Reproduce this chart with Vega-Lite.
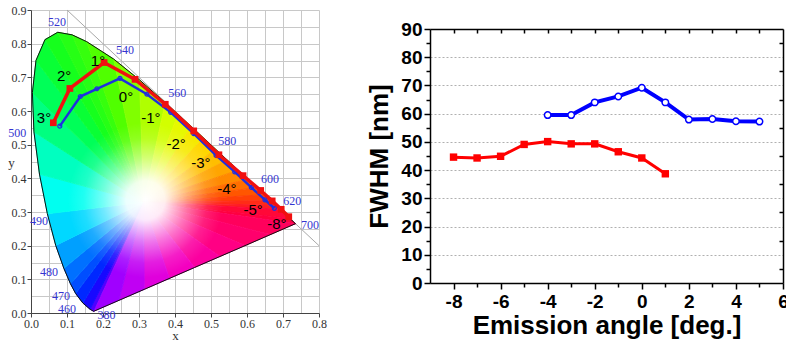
{
 "$schema": "https://vega.github.io/schema/vega-lite/v6.json",
 "padding": {"left": 7, "top": 4, "right": 0, "bottom": 0},
 "background": "white",
 "config": {"view": {"stroke": null}, "font": "Liberation Sans"},
 "columns": 2,
 "align": "none",
 "spacing": 39,
 "datasets": {
  "tri": [
   {"t":0,"o":0,"x":0.3127,"y":0.329,"h":410},{"t":0,"o":1,"x":0.1741,"y":0.005,"h":410},{"t":0,"o":2,"x":0.1644,"y":0.0109,"h":410},
   {"t":1,"o":0,"x":0.3127,"y":0.329,"h":450},{"t":1,"o":1,"x":0.1644,"y":0.0109,"h":450},{"t":1,"o":2,"x":0.144,"y":0.0297,"h":450},
   {"t":2,"o":0,"x":0.3127,"y":0.329,"h":465},{"t":2,"o":1,"x":0.144,"y":0.0297,"h":465},{"t":2,"o":2,"x":0.1241,"y":0.0578,"h":465},
   {"t":3,"o":0,"x":0.3127,"y":0.329,"h":472},{"t":3,"o":1,"x":0.1241,"y":0.0578,"h":472},{"t":3,"o":2,"x":0.1096,"y":0.0868,"h":472},
   {"t":4,"o":0,"x":0.3127,"y":0.329,"h":477},{"t":4,"o":1,"x":0.1096,"y":0.0868,"h":477},{"t":4,"o":2,"x":0.0913,"y":0.1327,"h":477},
   {"t":5,"o":0,"x":0.3127,"y":0.329,"h":482},{"t":5,"o":1,"x":0.0913,"y":0.1327,"h":482},{"t":5,"o":2,"x":0.0687,"y":0.2007,"h":482},
   {"t":6,"o":0,"x":0.3127,"y":0.329,"h":487},{"t":6,"o":1,"x":0.0687,"y":0.2007,"h":487},{"t":6,"o":2,"x":0.0454,"y":0.295,"h":487},
   {"t":7,"o":0,"x":0.3127,"y":0.329,"h":492},{"t":7,"o":1,"x":0.0454,"y":0.295,"h":492},{"t":7,"o":2,"x":0.0235,"y":0.4127,"h":492},
   {"t":8,"o":0,"x":0.3127,"y":0.329,"h":497},{"t":8,"o":1,"x":0.0235,"y":0.4127,"h":497},{"t":8,"o":2,"x":0.0082,"y":0.5384,"h":497},
   {"t":9,"o":0,"x":0.3127,"y":0.329,"h":502},{"t":9,"o":1,"x":0.0082,"y":0.5384,"h":502},{"t":9,"o":2,"x":0.0039,"y":0.6548,"h":502},
   {"t":10,"o":0,"x":0.3127,"y":0.329,"h":507},{"t":10,"o":1,"x":0.0039,"y":0.6548,"h":507},{"t":10,"o":2,"x":0.0139,"y":0.7502,"h":507},
   {"t":11,"o":0,"x":0.3127,"y":0.329,"h":512},{"t":11,"o":1,"x":0.0139,"y":0.7502,"h":512},{"t":11,"o":2,"x":0.0389,"y":0.812,"h":512},
   {"t":12,"o":0,"x":0.3127,"y":0.329,"h":517},{"t":12,"o":1,"x":0.0389,"y":0.812,"h":517},{"t":12,"o":2,"x":0.0743,"y":0.8338,"h":517},
   {"t":13,"o":0,"x":0.3127,"y":0.329,"h":522},{"t":13,"o":1,"x":0.0743,"y":0.8338,"h":522},{"t":13,"o":2,"x":0.1142,"y":0.8262,"h":522},
   {"t":14,"o":0,"x":0.3127,"y":0.329,"h":527},{"t":14,"o":1,"x":0.1142,"y":0.8262,"h":527},{"t":14,"o":2,"x":0.1547,"y":0.8059,"h":527},
   {"t":15,"o":0,"x":0.3127,"y":0.329,"h":535},{"t":15,"o":1,"x":0.1547,"y":0.8059,"h":535},{"t":15,"o":2,"x":0.2296,"y":0.7543,"h":535},
   {"t":16,"o":0,"x":0.3127,"y":0.329,"h":545},{"t":16,"o":1,"x":0.2296,"y":0.7543,"h":545},{"t":16,"o":2,"x":0.3016,"y":0.6923,"h":545},
   {"t":17,"o":0,"x":0.3127,"y":0.329,"h":555},{"t":17,"o":1,"x":0.3016,"y":0.6923,"h":555},{"t":17,"o":2,"x":0.3731,"y":0.6245,"h":555},
   {"t":18,"o":0,"x":0.3127,"y":0.329,"h":562},{"t":18,"o":1,"x":0.3731,"y":0.6245,"h":562},{"t":18,"o":2,"x":0.4087,"y":0.5896,"h":562},
   {"t":19,"o":0,"x":0.3127,"y":0.329,"h":567},{"t":19,"o":1,"x":0.4087,"y":0.5896,"h":567},{"t":19,"o":2,"x":0.4441,"y":0.5547,"h":567},
   {"t":20,"o":0,"x":0.3127,"y":0.329,"h":572},{"t":20,"o":1,"x":0.4441,"y":0.5547,"h":572},{"t":20,"o":2,"x":0.4788,"y":0.5202,"h":572},
   {"t":21,"o":0,"x":0.3127,"y":0.329,"h":577},{"t":21,"o":1,"x":0.4788,"y":0.5202,"h":577},{"t":21,"o":2,"x":0.5125,"y":0.4866,"h":577},
   {"t":22,"o":0,"x":0.3127,"y":0.329,"h":582},{"t":22,"o":1,"x":0.5125,"y":0.4866,"h":582},{"t":22,"o":2,"x":0.5448,"y":0.4544,"h":582},
   {"t":23,"o":0,"x":0.3127,"y":0.329,"h":587},{"t":23,"o":1,"x":0.5448,"y":0.4544,"h":587},{"t":23,"o":2,"x":0.5752,"y":0.4242,"h":587},
   {"t":24,"o":0,"x":0.3127,"y":0.329,"h":592},{"t":24,"o":1,"x":0.5752,"y":0.4242,"h":592},{"t":24,"o":2,"x":0.6029,"y":0.3965,"h":592},
   {"t":25,"o":0,"x":0.3127,"y":0.329,"h":597},{"t":25,"o":1,"x":0.6029,"y":0.3965,"h":597},{"t":25,"o":2,"x":0.627,"y":0.3725,"h":597},
   {"t":26,"o":0,"x":0.3127,"y":0.329,"h":602},{"t":26,"o":1,"x":0.627,"y":0.3725,"h":602},{"t":26,"o":2,"x":0.6482,"y":0.3514,"h":602},
   {"t":27,"o":0,"x":0.3127,"y":0.329,"h":607},{"t":27,"o":1,"x":0.6482,"y":0.3514,"h":607},{"t":27,"o":2,"x":0.6658,"y":0.334,"h":607},
   {"t":28,"o":0,"x":0.3127,"y":0.329,"h":612},{"t":28,"o":1,"x":0.6658,"y":0.334,"h":612},{"t":28,"o":2,"x":0.6801,"y":0.3197,"h":612},
   {"t":29,"o":0,"x":0.3127,"y":0.329,"h":617},{"t":29,"o":1,"x":0.6801,"y":0.3197,"h":617},{"t":29,"o":2,"x":0.6915,"y":0.3083,"h":617},
   {"t":30,"o":0,"x":0.3127,"y":0.329,"h":630},{"t":30,"o":1,"x":0.6915,"y":0.3083,"h":630},{"t":30,"o":2,"x":0.719,"y":0.2809,"h":630},
   {"t":31,"o":0,"x":0.3127,"y":0.329,"h":670},{"t":31,"o":1,"x":0.719,"y":0.2809,"h":670},{"t":31,"o":2,"x":0.7347,"y":0.2653,"h":670},
   {"t":32,"o":0,"x":0.3127,"y":0.329,"h":705},{"t":32,"o":1,"x":0.7347,"y":0.2653,"h":705},{"t":32,"o":2,"x":0.6646,"y":0.2328,"h":705},
   {"t":33,"o":0,"x":0.3127,"y":0.329,"h":715},{"t":33,"o":1,"x":0.6646,"y":0.2328,"h":715},{"t":33,"o":2,"x":0.5946,"y":0.2002,"h":715},
   {"t":34,"o":0,"x":0.3127,"y":0.329,"h":725},{"t":34,"o":1,"x":0.5946,"y":0.2002,"h":725},{"t":34,"o":2,"x":0.5245,"y":0.1677,"h":725},
   {"t":35,"o":0,"x":0.3127,"y":0.329,"h":735},{"t":35,"o":1,"x":0.5245,"y":0.1677,"h":735},{"t":35,"o":2,"x":0.4544,"y":0.1352,"h":735},
   {"t":36,"o":0,"x":0.3127,"y":0.329,"h":745},{"t":36,"o":1,"x":0.4544,"y":0.1352,"h":745},{"t":36,"o":2,"x":0.3844,"y":0.1026,"h":745},
   {"t":37,"o":0,"x":0.3127,"y":0.329,"h":755},{"t":37,"o":1,"x":0.3844,"y":0.1026,"h":755},{"t":37,"o":2,"x":0.3143,"y":0.0701,"h":755},
   {"t":38,"o":0,"x":0.3127,"y":0.329,"h":765},{"t":38,"o":1,"x":0.3143,"y":0.0701,"h":765},{"t":38,"o":2,"x":0.2442,"y":0.0376,"h":765},
   {"t":39,"o":0,"x":0.3127,"y":0.329,"h":775},{"t":39,"o":1,"x":0.2442,"y":0.0376,"h":775},{"t":39,"o":2,"x":0.1741,"y":0.005,"h":775}
  ],
  "locus": [
   {"o":0,"x":0.1741,"y":0.005},{"o":1,"x":0.1644,"y":0.0109},{"o":2,"x":0.144,"y":0.0297},{"o":3,"x":0.1241,"y":0.0578},
   {"o":4,"x":0.1096,"y":0.0868},{"o":5,"x":0.0913,"y":0.1327},{"o":6,"x":0.0687,"y":0.2007},{"o":7,"x":0.0454,"y":0.295},
   {"o":8,"x":0.0235,"y":0.4127},{"o":9,"x":0.0082,"y":0.5384},{"o":10,"x":0.0039,"y":0.6548},{"o":11,"x":0.0139,"y":0.7502},
   {"o":12,"x":0.0389,"y":0.812},{"o":13,"x":0.0743,"y":0.8338},{"o":14,"x":0.1142,"y":0.8262},{"o":15,"x":0.1547,"y":0.8059},
   {"o":16,"x":0.2296,"y":0.7543},{"o":17,"x":0.3016,"y":0.6923},{"o":18,"x":0.3731,"y":0.6245},{"o":19,"x":0.4441,"y":0.5547},
   {"o":20,"x":0.5125,"y":0.4866},{"o":21,"x":0.5752,"y":0.4242},{"o":22,"x":0.627,"y":0.3725},{"o":23,"x":0.6658,"y":0.334},
   {"o":24,"x":0.6915,"y":0.3083},{"o":25,"x":0.719,"y":0.2809},{"o":26,"x":0.7347,"y":0.2653},{"o":27,"x":0.5946,"y":0.2002},
   {"o":28,"x":0.4544,"y":0.1352},{"o":29,"x":0.3143,"y":0.0701},{"o":30,"x":0.1741,"y":0.005}
  ],
  "diag": [{"o":0,"x":0.1,"y":0.9},{"o":1,"x":0.8,"y":0.2}],
  "glow": [{"x":0.318,"y":0.335}],
  "wl": [
   {"x":0.072,"y":0.864,"l":"520"},{"x":0.261,"y":0.78,"l":"540"},{"x":0.406,"y":0.653,"l":"560"},
   {"x":0.545,"y":0.51,"l":"580"},{"x":0.664,"y":0.398,"l":"600"},{"x":0.726,"y":0.332,"l":"620"},
   {"x":0.775,"y":0.26,"l":"700"},{"x":-0.038,"y":0.534,"l":"500"},{"x":0.022,"y":0.273,"l":"490"},
   {"x":0.05,"y":0.122,"l":"480"},{"x":0.083,"y":0.05,"l":"470"},{"x":0.1,"y":0.012,"l":"460"},
   {"x":0.21,"y":-0.006,"l":"380"}
  ],
  "ang": [
   {"x":0.036,"y":0.579,"l":"3°"},{"x":0.092,"y":0.703,"l":"2°"},{"x":0.186,"y":0.748,"l":"1°"},
   {"x":0.264,"y":0.641,"l":"0°"},{"x":0.333,"y":0.579,"l":"-1°"},{"x":0.403,"y":0.501,"l":"-2°"},
   {"x":0.472,"y":0.445,"l":"-3°"},{"x":0.544,"y":0.368,"l":"-4°"},{"x":0.617,"y":0.306,"l":"-5°"},
   {"x":0.683,"y":0.264,"l":"-8°"}
  ],
  "redxy": [
   {"o":0,"x":0.062,"y":0.565},{"o":1,"x":0.108,"y":0.667},{"o":2,"x":0.203,"y":0.744},{"o":3,"x":0.289,"y":0.694},
   {"o":4,"x":0.373,"y":0.62},{"o":5,"x":0.452,"y":0.541},{"o":6,"x":0.522,"y":0.47},{"o":7,"x":0.589,"y":0.408},
   {"o":8,"x":0.638,"y":0.364},{"o":9,"x":0.67,"y":0.333},{"o":10,"x":0.695,"y":0.308},{"o":11,"x":0.716,"y":0.286}
  ],
  "bluexy": [
   {"o":0,"x":0.08,"y":0.555},{"o":1,"x":0.137,"y":0.643},{"o":2,"x":0.183,"y":0.666},{"o":3,"x":0.247,"y":0.697},
   {"o":4,"x":0.322,"y":0.65},{"o":5,"x":0.388,"y":0.596},{"o":6,"x":0.452,"y":0.533},{"o":7,"x":0.514,"y":0.468},
   {"o":8,"x":0.566,"y":0.419},{"o":9,"x":0.612,"y":0.373},{"o":10,"x":0.65,"y":0.336},{"o":11,"x":0.676,"y":0.311}
  ],
  "red": [
   {"a":-8,"f":44.6},{"a":-7,"f":44.3},{"a":-6,"f":44.9},{"a":-5,"f":49.1},{"a":-4,"f":50.1},
   {"a":-3,"f":49.3},{"a":-2,"f":49.3},{"a":-1,"f":46.5},{"a":0,"f":44.3},{"a":1,"f":38.7}
  ],
  "blue": [
   {"a":-4,"f":59.5},{"a":-3,"f":59.5},{"a":-2,"f":64},{"a":-1,"f":66.1},{"a":0,"f":69.2},
   {"a":1,"f":64},{"a":2,"f":57.9},{"a":3,"f":58.1},{"a":4,"f":57.3},{"a":5,"f":57.2}
  ]
 },
 "concat": [
  {
   "width": 288,
   "height": 303,
   "resolve": {"axis": {"x": "independent", "y": "independent"}},
   "layer": [
    {
     "data": {"name": "diag"},
     "mark": {"type": "line", "color": "#a8a8a8", "strokeWidth": 1},
     "encoding": {
      "x": {"field": "x", "type": "quantitative", "scale": {"domain": [0, 0.8], "nice": false, "zero": false},
            "axis": {"orient": "bottom", "values": [0,0.05,0.1,0.15,0.2,0.25,0.3,0.35,0.4,0.45,0.5,0.55,0.6,0.65,0.7,0.75,0.8], "grid": true, "gridColor": "#c8c8c8", "gridWidth": 1, "labels": false, "ticks": false, "domain": false, "title": null}},
      "y": {"field": "y", "type": "quantitative", "scale": {"domain": [0, 0.9], "nice": false, "zero": false},
            "axis": {"orient": "left", "values": [0,0.05,0.1,0.15,0.2,0.25,0.3,0.35,0.4,0.45,0.5,0.55,0.6,0.65,0.7,0.75,0.8,0.85,0.9], "grid": true, "gridColor": "#c8c8c8", "gridWidth": 1, "labels": false, "ticks": false, "domain": false, "title": null}},
      "order": {"field": "o"}
     }
    },
    {
     "data": {"name": "tri"},
     "mark": {"type": "line", "strokeWidth": 1},
     "encoding": {
      "x": {"field": "x", "type": "quantitative", "scale": {"domain": [0, 0.8], "nice": false, "zero": false},
            "axis": {"orient": "bottom", "values": [0,0.1,0.2,0.3,0.4,0.5,0.6,0.7,0.8], "format": ".1f", "labelFlush": false, "labelOverlap": false, "grid": false, "tickSize": 4, "tickColor": "#444", "domainColor": "#444", "labelFont": "Liberation Serif", "labelFontSize": 12, "labelColor": "#333", "labelPadding": 1, "title": "x", "titleFont": "Liberation Serif", "titleFontSize": 13, "titleFontWeight": "normal", "titleColor": "#333", "titlePadding": 0}},
      "y": {"field": "y", "type": "quantitative", "scale": {"domain": [0, 0.9], "nice": false, "zero": false},
            "axis": {"orient": "left", "values": [0,0.1,0.2,0.3,0.4,0.5,0.6,0.7,0.8,0.9], "format": ".1f", "labelFlush": false, "labelOverlap": false, "grid": false, "tickSize": 4, "tickColor": "#444", "domainColor": "#444", "labelFont": "Liberation Serif", "labelFontSize": 12, "labelColor": "#333", "labelPadding": 1, "title": "y", "titleFont": "Liberation Serif", "titleFontSize": 13, "titleFontWeight": "normal", "titleColor": "#333", "titleAngle": 0, "titleX": -20, "titleY": 152, "titleAlign": "center", "titleBaseline": "middle"}},
      "detail": {"field": "t"},
      "order": {"field": "o"},
      "fill": {"field": "h", "type": "quantitative", "legend": null,
               "scale": {"interpolate": "rgb", "domain": [380,440,460,470,477,482,487,492,497,502,508,515,525,535,545,555,565,575,585,595,605,615,630,670,710,730,750,770],
                         "range": ["#7000ff","#3000ff","#0010ff","#0040ff","#0070ff","#00a0ff","#00d8ff","#00fff0","#00ffc0","#00ff80","#00ff50","#10ff20","#30ff10","#50ff00","#80ff00","#b0ff00","#e0ff00","#ffe000","#ffb000","#ff7800","#ff4800","#ff2020","#ff0838","#ff0040","#ff0060","#ff0090","#f000d0","#b000ff"]}},
      "stroke": {"field": "h", "type": "quantitative", "legend": null,
               "scale": {"interpolate": "rgb", "domain": [380,440,460,470,477,482,487,492,497,502,508,515,525,535,545,555,565,575,585,595,605,615,630,670,710,730,750,770],
                         "range": ["#7000ff","#3000ff","#0010ff","#0040ff","#0070ff","#00a0ff","#00d8ff","#00fff0","#00ffc0","#00ff80","#00ff50","#10ff20","#30ff10","#50ff00","#80ff00","#b0ff00","#e0ff00","#ffe000","#ffb000","#ff7800","#ff4800","#ff2020","#ff0838","#ff0040","#ff0060","#ff0090","#f000d0","#b000ff"]}}
     }
    },
    {
     "data": {"name": "glow"},
     "mark": {"type": "point", "shape": "circle", "size": 24000, "filled": true, "opacity": 1, "strokeWidth": 0,
              "fill": {"gradient": "radial", "x1": 0.5, "y1": 0.5, "r1": 0, "x2": 0.5, "y2": 0.5, "r2": 0.5,
                       "stops": [{"offset": 0, "color": "rgba(255,255,255,1)"}, {"offset": 0.25, "color": "rgba(255,255,255,0.92)"}, {"offset": 0.55, "color": "rgba(255,255,255,0.45)"}, {"offset": 0.8, "color": "rgba(255,255,255,0.12)"}, {"offset": 1, "color": "rgba(255,255,255,0)"}]}},
     "encoding": {
      "x": {"field": "x", "type": "quantitative", "scale": {"domain": [0, 0.8], "nice": false, "zero": false}, "axis": null},
      "y": {"field": "y", "type": "quantitative", "scale": {"domain": [0, 0.9], "nice": false, "zero": false}, "axis": null}
     }
    },
    {
     "data": {"name": "locus"},
     "mark": {"type": "line", "color": "#111", "strokeWidth": 1},
     "encoding": {
      "x": {"field": "x", "type": "quantitative", "scale": {"domain": [0, 0.8], "nice": false, "zero": false}, "axis": null},
      "y": {"field": "y", "type": "quantitative", "scale": {"domain": [0, 0.9], "nice": false, "zero": false}, "axis": null},
      "order": {"field": "o"}
     }
    },
    {
     "data": {"name": "wl"},
     "mark": {"type": "text", "font": "Liberation Serif", "fontSize": 12, "color": "#3434d0", "align": "center", "baseline": "middle"},
     "encoding": {
      "x": {"field": "x", "type": "quantitative", "scale": {"domain": [0, 0.8], "nice": false, "zero": false}, "axis": null},
      "y": {"field": "y", "type": "quantitative", "scale": {"domain": [0, 0.9], "nice": false, "zero": false}, "axis": null},
      "text": {"field": "l"}
     }
    },
    {
     "data": {"name": "bluexy"},
     "mark": {"type": "line", "color": "#1f2fe0", "strokeWidth": 2.5, "point": {"shape": "circle", "size": 16, "filled": false, "color": "#1f2fe0", "strokeWidth": 1.2}},
     "encoding": {
      "x": {"field": "x", "type": "quantitative", "scale": {"domain": [0, 0.8], "nice": false, "zero": false}, "axis": null},
      "y": {"field": "y", "type": "quantitative", "scale": {"domain": [0, 0.9], "nice": false, "zero": false}, "axis": null},
      "order": {"field": "o"}
     }
    },
    {
     "data": {"name": "redxy"},
     "mark": {"type": "line", "color": "#f01010", "strokeWidth": 3.5, "point": {"shape": "square", "size": 45, "filled": true, "color": "#f01010"}},
     "encoding": {
      "x": {"field": "x", "type": "quantitative", "scale": {"domain": [0, 0.8], "nice": false, "zero": false}, "axis": null},
      "y": {"field": "y", "type": "quantitative", "scale": {"domain": [0, 0.9], "nice": false, "zero": false}, "axis": null},
      "order": {"field": "o"}
     }
    },
    {
     "data": {"name": "ang"},
     "mark": {"type": "text", "font": "Liberation Sans", "fontSize": 15, "color": "#000", "align": "center", "baseline": "middle"},
     "encoding": {
      "x": {"field": "x", "type": "quantitative", "scale": {"domain": [0, 0.8], "nice": false, "zero": false}, "axis": null},
      "y": {"field": "y", "type": "quantitative", "scale": {"domain": [0, 0.9], "nice": false, "zero": false}, "axis": null},
      "text": {"field": "l"}
     }
    }
   ]
  },
  {
   "spacing": 6,
   "vconcat": [
    {
     "width": 353,
     "height": 1,
     "data": {"values": [{"k": 1}]},
     "mark": {"type": "point", "opacity": 0},
     "encoding": {}
    },
    {
     "width": 353,
     "height": 254,
     "resolve": {"axis": {"x": "independent", "y": "independent"}},
     "layer": [
      {
       "data": {"name": "red"},
       "mark": {"type": "line", "color": "#ff0000", "strokeWidth": 3},
       "encoding": {
        "x": {"field": "a", "type": "quantitative", "scale": {"domain": [-9, 6], "nice": false, "zero": false},
              "axis": {"orient": "bottom", "values": [-8,-6,-4,-2,0,2,4,6], "labelExpr": "replace(datum.label, '−', '-')", "labelFlush": false, "grid": false, "tickSize": 6, "tickWidth": 1.5, "tickColor": "#000", "domainColor": "#000", "domainWidth": 1.5, "labelFont": "Liberation Sans", "labelFontWeight": "bold", "labelFontSize": 19, "labelColor": "#000", "labelPadding": 3, "title": "Emission angle [deg.]", "titleFont": "Liberation Sans", "titleFontSize": 26, "titleFontWeight": "bold", "titleColor": "#000", "titlePadding": 1}},
        "y": {"field": "f", "type": "quantitative", "scale": {"domain": [0, 90], "nice": false, "zero": false},
              "axis": {"orient": "left", "values": [0,10,20,30,40,50,60,70,80,90], "grid": true, "gridDash": [2, 2], "gridColor": "#b0b0b0", "gridWidth": 1, "tickSize": 6, "tickWidth": 1.5, "tickColor": "#000", "domainColor": "#000", "domainWidth": 1.5, "labelFont": "Liberation Sans", "labelFontWeight": "bold", "labelFontSize": 19, "labelColor": "#000", "labelPadding": 2, "title": "FWHM [nm]", "titleFont": "Liberation Sans", "titleFontSize": 26, "titleFontWeight": "bold", "titleColor": "#000", "titlePadding": 8}}
       }
      },
      {
       "data": {"name": "red"},
       "mark": {"type": "point", "shape": "square", "size": 55, "filled": true, "color": "#ff0000", "opacity": 1},
       "encoding": {
        "x": {"field": "a", "type": "quantitative", "scale": {"domain": [-9, 6], "nice": false, "zero": false}, "axis": null},
        "y": {"field": "f", "type": "quantitative", "scale": {"domain": [0, 90], "nice": false, "zero": false}, "axis": null}
       }
      },
      {
       "data": {"name": "blue"},
       "mark": {"type": "line", "color": "#0000ff", "strokeWidth": 4},
       "encoding": {
        "x": {"field": "a", "type": "quantitative", "scale": {"domain": [-9, 6], "nice": false, "zero": false}, "axis": null},
        "y": {"field": "f", "type": "quantitative", "scale": {"domain": [0, 90], "nice": false, "zero": false}, "axis": null}
       }
      },
      {
       "data": {"name": "blue"},
       "mark": {"type": "point", "shape": "circle", "size": 42, "filled": true, "fill": "#ffffff", "stroke": "#0000ff", "strokeWidth": 1.5, "opacity": 1},
       "encoding": {
        "x": {"field": "a", "type": "quantitative", "scale": {"domain": [-9, 6], "nice": false, "zero": false}, "axis": null},
        "y": {"field": "f", "type": "quantitative", "scale": {"domain": [0, 90], "nice": false, "zero": false}, "axis": null}
       }
      },
      {
       "data": {"name": "red"},
       "mark": {"type": "point", "opacity": 0},
       "encoding": {
        "x": {"field": "a", "type": "quantitative", "scale": {"domain": [-9, 6], "nice": false, "zero": false},
              "axis": {"orient": "bottom", "values": [-7,-5,-3,-1,1,3,5], "labels": false, "grid": false, "domain": false, "tickSize": 4, "tickWidth": 1.5, "tickColor": "#000", "title": null}},
        "y": {"field": "f", "type": "quantitative", "scale": {"domain": [0, 90], "nice": false, "zero": false},
              "axis": {"orient": "left", "values": [5,15,25,35,45,55,65,75,85], "labels": false, "grid": false, "domain": false, "tickSize": 4, "tickWidth": 1.5, "tickColor": "#000", "title": null}}
       }
      },
      {
       "data": {"name": "red"},
       "mark": {"type": "point", "opacity": 0},
       "encoding": {
        "x": {"field": "a", "type": "quantitative", "scale": {"domain": [-9, 6], "nice": false, "zero": false},
              "axis": {"orient": "top", "values": [-8,-7,-6,-5,-4,-3,-2,-1,0,1,2,3,4,5], "labels": false, "grid": false, "domain": true, "domainColor": "#000", "domainWidth": 1.5, "tickSize": -4, "tickWidth": 1.5, "tickColor": "#000", "title": null}},
        "y": {"field": "f", "type": "quantitative", "scale": {"domain": [0, 90], "nice": false, "zero": false},
              "axis": {"orient": "right", "values": [5,15,25,35,45,55,65,75,85], "labels": false, "grid": false, "domain": true, "domainColor": "#000", "domainWidth": 1.5, "tickSize": -4, "tickWidth": 1.5, "tickColor": "#000", "title": null}}
       }
      }
     ]
    }
   ]
  }
 ]
}
